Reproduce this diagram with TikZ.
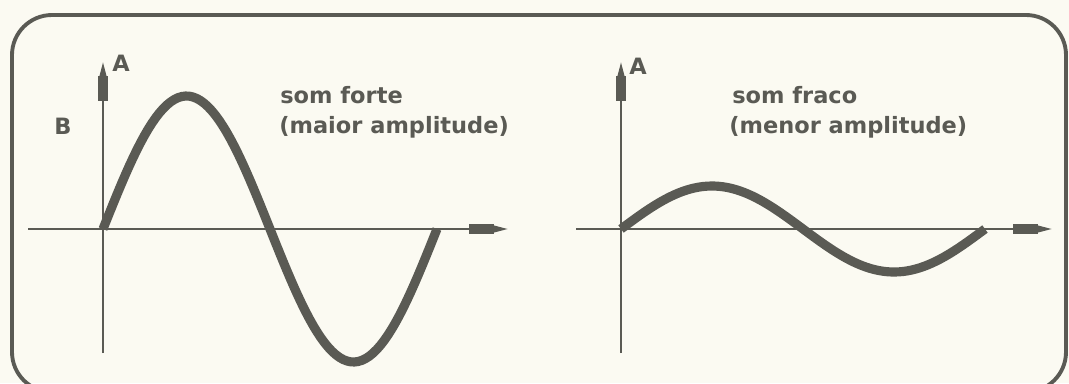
\documentclass[tikz,border=0pt]{standalone}
\usepackage{fontspec}
\setmainfont{DejaVu Sans}
\usepackage{xcolor}
\usetikzlibrary{arrows.meta}
\definecolor{ink}{RGB}{90,90,84}
\definecolor{paper}{RGB}{251,250,242}

\begin{document}
\begin{tikzpicture}[x=0.02cm,y=-0.02cm,
    axis/.style={ink,line width=1.1pt,-{Rectangle[length=0.5cm,width=0.21cm]Triangle[length=0.28cm,width=0.13cm]}},
    wave/.style={ink,line width=5.2pt},
    lab/.style={ink,font=\bfseries\fontsize{12.8}{17}\selectfont,inner sep=0pt}]
    \useasboundingbox[fill=paper] (0,0) rectangle (1069,383);
    \draw[ink,line width=2.2pt,rounded corners=0.8cm] (12,15) rectangle (1066,392);

    % som forte
    \coordinate (oL) at (103,229);
    \coordinate (nL) at (103,62);
    \coordinate (sL) at (103,353);
    \coordinate (wL) at (28,229);
    \coordinate (eL) at (508,229);
    \draw[axis] (sL) -- (nL);
    \draw[axis] (wL) -- (eL);
    \draw[wave] plot[domain=0:334,samples=90] ({103+\x},{229-133*sin(\x/334*360)});
    \node[lab] (aL) at (121,63) {A};
    \node[lab] (bL) at (63,126) {B};
    \node[lab,anchor=base west] (tL) at (280,103) {som forte};
    \node[lab,anchor=base west] (uL) at (279,133) {(maior amplitude)};

    % som fraco
    \coordinate (oR) at (621,229);
    \coordinate (nR) at (621,62);
    \coordinate (sR) at (621,353);
    \coordinate (wR) at (576,229);
    \coordinate (eR) at (1052,229);
    \draw[axis] (sR) -- (nR);
    \draw[axis] (wR) -- (eR);
    \draw[wave] plot[domain=0:364,samples=90] ({621+\x},{229-43*sin(\x/364*360)});
    \node[lab] (aR) at (638,66) {A};
    \node[lab,anchor=base west] (tR) at (732,103) {som fraco};
    \node[lab,anchor=base west] (uR) at (729,133) {(menor amplitude)};
\end{tikzpicture}
\end{document}
